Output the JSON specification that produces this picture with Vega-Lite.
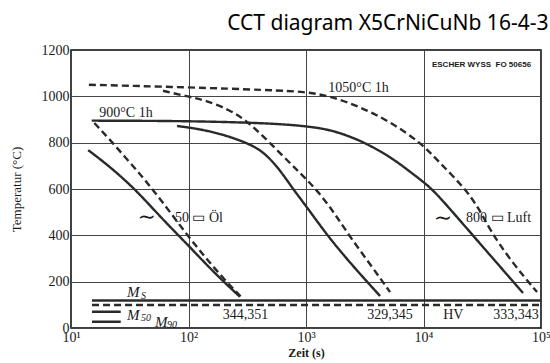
{
  "$schema": "https://vega.github.io/schema/vega-lite/v6.json",
  "width": 470,
  "height": 278,
  "autosize": {"type": "none"},
  "padding": {"left": 71, "top": 50, "right": 9, "bottom": 35},
  "background": "white",
  "title": {"text": "CCT diagram X5CrNiCuNb 16-4-3", "anchor": "end", "font": "Noto Sans", "fontSize": 21, "fontWeight": "normal", "color": "#000", "baseline": "alphabetic", "offset": 22, "dy": 30, "dx": -2},
  "config": {
    "view": {"stroke": "#000", "strokeWidth": 1.5},
    "axis": {"grid": true, "gridColor": "#444", "gridWidth": 1, "gridOpacity": 1, "ticks": false, "domain": false, "labelFont": "Liberation Serif", "labelFontSize": 14, "labelColor": "#1a1a1a", "titleFont": "Liberation Serif", "titleColor": "#1a1a1a", "titleFontSize": 12, "labelFlush": false, "labelOverlap": false}
  },
  "datasets": {
    "curves": [
      {"curve": "1050-A", "aust": "1050 °C", "t": 14.2, "T": 1050},
      {"curve": "1050-A", "aust": "1050 °C", "t": 99, "T": 1039},
      {"curve": "1050-A", "aust": "1050 °C", "t": 494, "T": 1027},
      {"curve": "1050-A", "aust": "1050 °C", "t": 980, "T": 1020},
      {"curve": "1050-A", "aust": "1050 °C", "t": 1600, "T": 1001},
      {"curve": "1050-A", "aust": "1050 °C", "t": 2880, "T": 955},
      {"curve": "1050-A", "aust": "1050 °C", "t": 5190, "T": 891},
      {"curve": "1050-A", "aust": "1050 °C", "t": 9710, "T": 796},
      {"curve": "1050-A", "aust": "1050 °C", "t": 13800, "T": 712},
      {"curve": "1050-A", "aust": "1050 °C", "t": 22500, "T": 604},
      {"curve": "1050-A", "aust": "1050 °C", "t": 30200, "T": 509},
      {"curve": "1050-A", "aust": "1050 °C", "t": 36800, "T": 423},
      {"curve": "1050-A", "aust": "1050 °C", "t": 54500, "T": 294},
      {"curve": "1050-A", "aust": "1050 °C", "t": 92500, "T": 155},
      {"curve": "900-A", "aust": "900 °C", "t": 15, "T": 895},
      {"curve": "900-A", "aust": "900 °C", "t": 99, "T": 894},
      {"curve": "900-A", "aust": "900 °C", "t": 494, "T": 884},
      {"curve": "900-A", "aust": "900 °C", "t": 980, "T": 872},
      {"curve": "900-A", "aust": "900 °C", "t": 1600, "T": 857},
      {"curve": "900-A", "aust": "900 °C", "t": 2880, "T": 812},
      {"curve": "900-A", "aust": "900 °C", "t": 5190, "T": 740},
      {"curve": "900-A", "aust": "900 °C", "t": 7670, "T": 675},
      {"curve": "900-A", "aust": "900 °C", "t": 9710, "T": 635},
      {"curve": "900-A", "aust": "900 °C", "t": 12050, "T": 596},
      {"curve": "900-A", "aust": "900 °C", "t": 16800, "T": 514},
      {"curve": "900-A", "aust": "900 °C", "t": 24900, "T": 414},
      {"curve": "900-A", "aust": "900 °C", "t": 36800, "T": 315},
      {"curve": "900-A", "aust": "900 °C", "t": 70300, "T": 151},
      {"curve": "1050-B", "aust": "1050 °C", "t": 60.7, "T": 1024},
      {"curve": "1050-B", "aust": "1050 °C", "t": 99, "T": 999},
      {"curve": "1050-B", "aust": "1050 °C", "t": 138, "T": 984},
      {"curve": "1050-B", "aust": "1050 °C", "t": 225, "T": 941},
      {"curve": "1050-B", "aust": "1050 °C", "t": 303, "T": 898},
      {"curve": "1050-B", "aust": "1050 °C", "t": 406, "T": 842},
      {"curve": "1050-B", "aust": "1050 °C", "t": 601, "T": 755},
      {"curve": "1050-B", "aust": "1050 °C", "t": 889, "T": 669},
      {"curve": "1050-B", "aust": "1050 °C", "t": 1240, "T": 596},
      {"curve": "1050-B", "aust": "1050 °C", "t": 1770, "T": 492},
      {"curve": "1050-B", "aust": "1050 °C", "t": 2370, "T": 393},
      {"curve": "1050-B", "aust": "1050 °C", "t": 3510, "T": 276},
      {"curve": "1050-B", "aust": "1050 °C", "t": 5190, "T": 155},
      {"curve": "900-B", "aust": "900 °C", "t": 79.8, "T": 872},
      {"curve": "900-B", "aust": "900 °C", "t": 125, "T": 859},
      {"curve": "900-B", "aust": "900 °C", "t": 205, "T": 833},
      {"curve": "900-B", "aust": "900 °C", "t": 334, "T": 794},
      {"curve": "900-B", "aust": "900 °C", "t": 448, "T": 755},
      {"curve": "900-B", "aust": "900 °C", "t": 601, "T": 682},
      {"curve": "900-B", "aust": "900 °C", "t": 775, "T": 600},
      {"curve": "900-B", "aust": "900 °C", "t": 1000, "T": 527},
      {"curve": "900-B", "aust": "900 °C", "t": 1510, "T": 401},
      {"curve": "900-B", "aust": "900 °C", "t": 2370, "T": 281},
      {"curve": "900-B", "aust": "900 °C", "t": 4270, "T": 138},
      {"curve": "1050-C", "aust": "1050 °C", "t": 15.8, "T": 885},
      {"curve": "1050-C", "aust": "1050 °C", "t": 21.5, "T": 812},
      {"curve": "1050-C", "aust": "1050 °C", "t": 28.8, "T": 738},
      {"curve": "1050-C", "aust": "1050 °C", "t": 38.6, "T": 665},
      {"curve": "1050-C", "aust": "1050 °C", "t": 49.9, "T": 596},
      {"curve": "1050-C", "aust": "1050 °C", "t": 69.6, "T": 501},
      {"curve": "1050-C", "aust": "1050 °C", "t": 99, "T": 397},
      {"curve": "1050-C", "aust": "1050 °C", "t": 138, "T": 307},
      {"curve": "1050-C", "aust": "1050 °C", "t": 193, "T": 220},
      {"curve": "1050-C", "aust": "1050 °C", "t": 285, "T": 130},
      {"curve": "900-C", "aust": "900 °C", "t": 14, "T": 768},
      {"curve": "900-C", "aust": "900 °C", "t": 21.5, "T": 696},
      {"curve": "900-C", "aust": "900 °C", "t": 35.7, "T": 596},
      {"curve": "900-C", "aust": "900 °C", "t": 57.2, "T": 481},
      {"curve": "900-C", "aust": "900 °C", "t": 99, "T": 358},
      {"curve": "900-C", "aust": "900 °C", "t": 152, "T": 258},
      {"curve": "900-C", "aust": "900 °C", "t": 213, "T": 186},
      {"curve": "900-C", "aust": "900 °C", "t": 274, "T": 135},
      {"curve": "Ms-900", "aust": "900 °C", "t": 15.1, "T": 119},
      {"curve": "Ms-900", "aust": "900 °C", "t": 100000, "T": 119},
      {"curve": "Ms-1050", "aust": "1050 °C", "t": 15.1, "T": 99},
      {"curve": "Ms-1050", "aust": "1050 °C", "t": 100000, "T": 99},
      {"curve": "M50", "aust": "900 °C", "t": 15.1, "T": 70},
      {"curve": "M50", "aust": "900 °C", "t": 26.5, "T": 70},
      {"curve": "M90", "aust": "900 °C", "t": 15.1, "T": 27},
      {"curve": "M90", "aust": "900 °C", "t": 26.5, "T": 27}
    ],
    "leftLabels": [
      {"label": "900°C 1h", "t": 17.4, "T": 912},
      {"label": "1050°C 1h", "t": 1550, "T": 1020},
      {"label": "50 ▭ Öl", "t": 76.7, "T": 459},
      {"label": "800 ▭ Luft", "t": 23000, "T": 456}
    ],
    "centerLabels": [
      {"label": "344,351", "t": 305, "T": 37},
      {"label": "329,345", "t": 5190, "T": 37},
      {"label": "HV", "t": 17950, "T": 37},
      {"label": "333,343", "t": 61200, "T": 37}
    ],
    "tildes": [
      {"label": "∼", "t": 44, "T": 478},
      {"label": "∼", "t": 14650, "T": 474}
    ],
    "stamp": [
      {"label": "ESCHER WYSS\u00a0\u00a0FO 50656", "t": 11800, "T": 1125}
    ],
    "mLabels": [
      {"label": "M", "t": 30, "T": 135},
      {"label": "M", "t": 30, "T": 34.5},
      {"label": "M", "t": 51.9, "T": 5.6}
    ],
    "subLabels": [
      {"label": "S", "t": 39.4, "T": 127},
      {"label": "50", "t": 39.4, "T": 30},
      {"label": "90", "t": 65.6, "T": 2}
    ]
  },
  "layer": [
    {
      "data": {"name": "curves"},
      "mark": {"type": "line", "color": "#2a2a2a", "strokeWidth": 2.4, "interpolate": "basis", "clip": true},
      "encoding": {
        "x": {"field": "t", "type": "quantitative", "scale": {"type": "log", "domain": [10, 100000]},
          "axis": {"values": [10, 100, 1000, 10000, 100000], "labelExpr": "datum.value == 10 ? '10¹' : datum.value == 100 ? '10²' : datum.value == 1000 ? '10³' : datum.value == 10000 ? '10⁴' : '10⁵'", "labelPadding": 2, "title": "Zeit (s)", "titleFontWeight": "bold", "titlePadding": 3}},
        "y": {"field": "T", "type": "quantitative", "scale": {"domain": [0, 1200]},
          "axis": {"values": [0, 200, 400, 600, 800, 1000, 1200], "format": "d", "labelPadding": 2, "title": "Temperatur (°C)", "titleFontWeight": "normal", "titleFontSize": 13, "titlePadding": 18}},
        "detail": {"field": "curve"},
        "strokeDash": {"field": "aust", "type": "nominal", "scale": {"domain": ["900 °C", "1050 °C"], "range": [[1, 0], [7, 4]]}, "legend": null}
      }
    },
    {
      "data": {"name": "leftLabels"},
      "mark": {"type": "text", "align": "left", "baseline": "alphabetic", "font": "Liberation Serif", "fontSize": 14, "color": "#1a1a1a"},
      "encoding": {"x": {"field": "t", "type": "quantitative"}, "y": {"field": "T", "type": "quantitative"}, "text": {"field": "label"}}
    },
    {
      "data": {"name": "centerLabels"},
      "mark": {"type": "text", "align": "center", "baseline": "alphabetic", "font": "Liberation Serif", "fontSize": 14, "color": "#1a1a1a"},
      "encoding": {"x": {"field": "t", "type": "quantitative"}, "y": {"field": "T", "type": "quantitative"}, "text": {"field": "label"}}
    },
    {
      "data": {"name": "tildes"},
      "mark": {"type": "text", "align": "center", "baseline": "middle", "font": "DejaVu Serif", "fontSize": 22, "color": "#1a1a1a"},
      "encoding": {"x": {"field": "t", "type": "quantitative"}, "y": {"field": "T", "type": "quantitative"}, "text": {"field": "label"}}
    },
    {
      "data": {"name": "stamp"},
      "mark": {"type": "text", "align": "left", "baseline": "alphabetic", "font": "Liberation Sans", "fontSize": 8, "fontWeight": "bold", "color": "#1a1a1a"},
      "encoding": {"x": {"field": "t", "type": "quantitative"}, "y": {"field": "T", "type": "quantitative"}, "text": {"field": "label"}}
    },
    {
      "data": {"name": "mLabels"},
      "mark": {"type": "text", "align": "left", "baseline": "alphabetic", "font": "Liberation Serif", "fontStyle": "italic", "fontSize": 15, "color": "#1a1a1a"},
      "encoding": {"x": {"field": "t", "type": "quantitative"}, "y": {"field": "T", "type": "quantitative"}, "text": {"field": "label"}}
    },
    {
      "data": {"name": "subLabels"},
      "mark": {"type": "text", "align": "left", "baseline": "alphabetic", "font": "Liberation Serif", "fontStyle": "italic", "fontSize": 10, "color": "#1a1a1a"},
      "encoding": {"x": {"field": "t", "type": "quantitative"}, "y": {"field": "T", "type": "quantitative"}, "text": {"field": "label"}}
    }
  ]
}
